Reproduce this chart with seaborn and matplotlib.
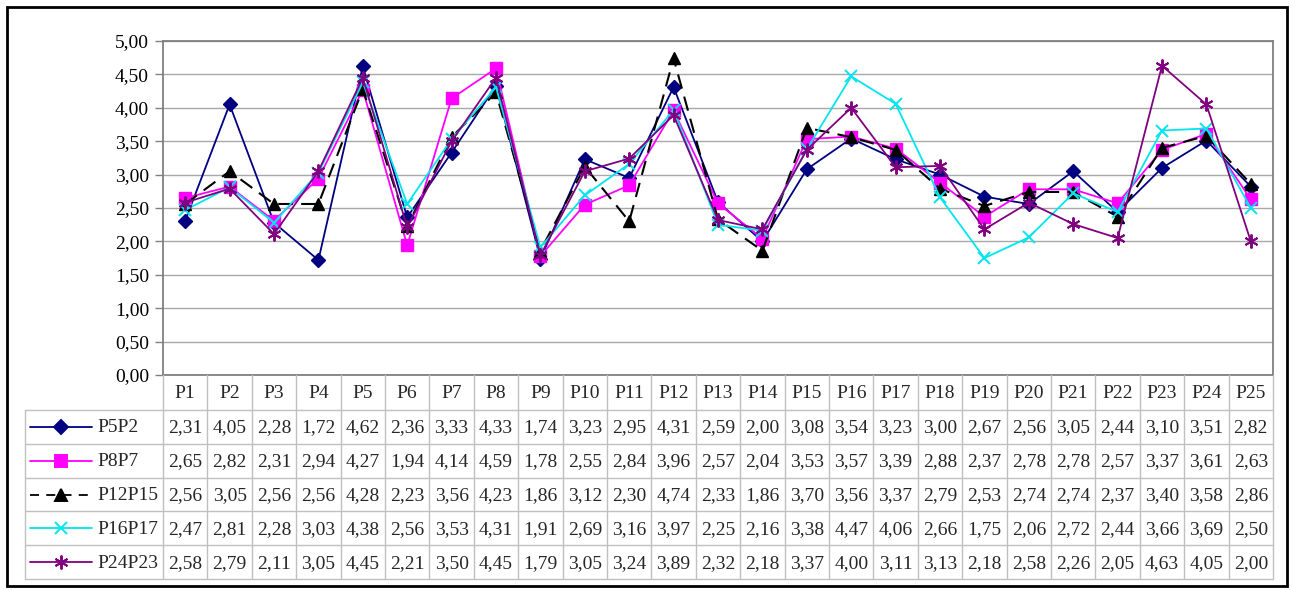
import numpy as np
import pandas as pd
import matplotlib
matplotlib.use("Agg")
import matplotlib.pyplot as plt
from matplotlib.lines import Line2D
from matplotlib.patches import Rectangle
from matplotlib.ticker import FuncFormatter, MultipleLocator
import seaborn as sns

# Data
categories = [f"P{i}" for i in range(1, 26)]
series_names = ["P5P2", "P8P7", "P12P15", "P16P17", "P24P23"]
p5p2 = [2.31, 4.05, 2.28, 1.72, 4.62, 2.36, 3.33, 4.33, 1.74, 3.23, 2.95, 4.31, 2.59,
        2.00, 3.08, 3.54, 3.23, 3.00, 2.67, 2.56, 3.05, 2.44, 3.10, 3.51, 2.82]
p8p7 = [2.65, 2.82, 2.31, 2.94, 4.27, 1.94, 4.14, 4.59, 1.78, 2.55, 2.84, 3.96, 2.57,
        2.04, 3.53, 3.57, 3.39, 2.88, 2.37, 2.78, 2.78, 2.57, 3.37, 3.61, 2.63]
p12p15 = [2.56, 3.05, 2.56, 2.56, 4.28, 2.23, 3.56, 4.23, 1.86, 3.12, 2.30, 4.74, 2.33,
          1.86, 3.70, 3.56, 3.37, 2.79, 2.53, 2.74, 2.74, 2.37, 3.40, 3.58, 2.86]
p16p17 = [2.47, 2.81, 2.28, 3.03, 4.38, 2.56, 3.53, 4.31, 1.91, 2.69, 3.16, 3.97, 2.25,
          2.16, 3.38, 4.47, 4.06, 2.66, 1.75, 2.06, 2.72, 2.44, 3.66, 3.69, 2.50]
p24p23 = [2.58, 2.79, 2.11, 3.05, 4.45, 2.21, 3.50, 4.45, 1.79, 3.05, 3.24, 3.89, 2.32,
          2.18, 3.37, 4.00, 3.11, 3.13, 2.18, 2.58, 2.26, 2.05, 4.63, 4.05, 2.00]
all_values = [p5p2, p8p7, p12p15, p16p17, p24p23]

# Styles
styles = {
    "P5P2":   dict(color="#000080", marker="D", ms=7, dashes=None),
    "P8P7":   dict(color="#ff00ff", marker="s", ms=8, dashes=None),
    "P12P15": dict(color="#000000", marker="^", ms=9, dashes=(7, 4)),
    "P16P17": dict(color="#00e5ee", marker="x", ms=9, dashes=None),
    "P24P23": dict(color="#800080", marker=(6, 2, 0), ms=10, dashes=None),
}

rows = []
for name, vals in zip(series_names, all_values):
    for i, v in enumerate(vals):
        rows.append({"series": name, "pos": i, "value": v})
df = pd.DataFrame(rows)

sns.set_theme(style="white")
plt.rcParams["font.family"] = ["Liberation Serif", "DejaVu Serif"]
FS = 14

W, H = 1293, 590
fig = plt.figure(figsize=(W / 100, H / 100), dpi=100)

# pixel layout
px_left, px_right, px_top, px_bottom = 163, 1273, 41, 375
tab_left, tab_bottom = 25, 579
col_w = (px_right - px_left) / len(categories)

ax = fig.add_axes([px_left / W, 1 - px_bottom / H,
                   (px_right - px_left) / W, (px_bottom - px_top) / H])

for name in series_names:
    st = styles[name]
    sub = df[df["series"] == name]
    thin = st["marker"] == "x" or isinstance(st["marker"], tuple)
    sns.lineplot(x="pos", y="value", data=sub, ax=ax, color=st["color"], lw=1.3,
                 marker=st["marker"], markersize=st["ms"], markeredgecolor=st["color"],
                 markeredgewidth=1.4 if thin else 1,
                 legend=False, sort=False, errorbar=None)
    line = ax.lines[-1]
    if st["dashes"] is not None:
        line.set_linestyle((0, st["dashes"]))
        line.set_linewidth(1.5)

ax.set_xlim(-0.5, len(categories) - 0.5)
ax.set_ylim(0, 5)
ax.yaxis.set_major_locator(MultipleLocator(0.5))
ax.yaxis.set_major_formatter(FuncFormatter(lambda v, p: f"{v:.2f}".replace(".", ",")))
ax.set_xticks([])
ax.set_xlabel("")
ax.set_ylabel("")
ax.grid(axis="y", color="#a8a8a8", lw=1)
ax.set_axisbelow(True)
for s in ax.spines.values():
    s.set_color("#808080")
    s.set_linewidth(1.3)
ax.tick_params(axis="y", which="major", left=True, length=6, width=1, color="#808080",
               labelsize=FS, pad=4, labelcolor="black")

# Table below the plot
tax = fig.add_axes([tab_left / W, 1 - tab_bottom / H,
                    (px_right - tab_left) / W, (tab_bottom - px_bottom) / H])
x0 = -0.5 - (px_left - tab_left) / col_w
tax.set_xlim(x0, len(categories) - 0.5)
tax.set_ylim(tab_bottom, px_bottom)
tax.axis("off")

def px2x(px):
    return -0.5 + (px - px_left) / col_w

grid_c = "#c0c0c0"
head_bot = 410
row_h = (tab_bottom - head_bot) / len(series_names)

# vertical lines
for j in range(len(categories) + 1):
    tax.plot([j - 0.5, j - 0.5], [px_bottom, tab_bottom], color=grid_c, lw=1, clip_on=False)
tax.plot([x0, x0], [head_bot, tab_bottom], color=grid_c, lw=1, clip_on=False)
# horizontal lines
for r in range(len(series_names) + 1):
    y = head_bot + r * row_h
    tax.plot([x0, len(categories) - 0.5], [y, y], color=grid_c, lw=1, clip_on=False)

for j, c in enumerate(categories):
    tax.text(j, (px_bottom + head_bot) / 2 + 1, c, ha="center", va="center", fontsize=FS)

for r, (name, vals) in enumerate(zip(series_names, all_values)):
    yc = head_bot + (r + 0.5) * row_h + 1
    for j, v in enumerate(vals):
        tax.text(j, yc, f"{v:.2f}".replace(".", ","), ha="center", va="center", fontsize=FS)
    st = styles[name]
    ls = (0, (5, 4)) if st["dashes"] is not None else "-"
    tax.add_line(Line2D([px2x(30), px2x(92)], [yc - 1, yc - 1], color=st["color"], lw=1.3, ls=ls))
    tax.add_line(Line2D([px2x(61)], [yc - 1], color=st["color"], marker=st["marker"],
                        markersize=st["ms"], markeredgecolor=st["color"], markeredgewidth=1.4, ls="none"))
    tax.text(px2x(97), yc, name, ha="left", va="center", fontsize=FS)

# outer frame
fig.patches.append(Rectangle((7 / W, 4 / H), (1287 - 7) / W, (583 - 4) / H,
                             transform=fig.transFigure, fill=False, ec="black", lw=2))

fig.savefig("out.png", dpi=100)
